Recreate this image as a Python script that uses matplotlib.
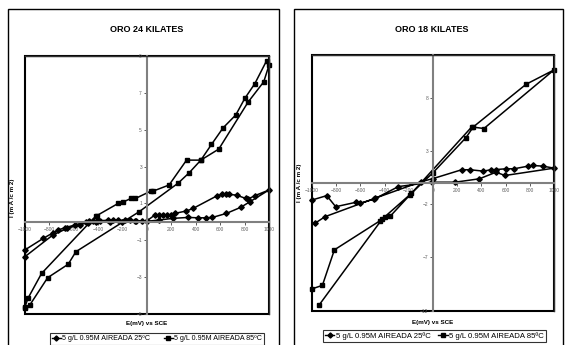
import matplotlib.pyplot as plt
from matplotlib.patches import Rectangle
from matplotlib.lines import Line2D

plt.rcParams['font.family'] = 'Liberation Sans'

# ORO 24 KILATES
x24_25 = [-1000, -849, -767, -726, -671, -589, -500, -470, -440, -410, -380, -317, -280, -240, -180,
          -139, -90, -40, 0, 65, 101, 134, 161, 194, 229, 324, 379, 576, 619, 646, 674, 734, 810,
          829, 884, 1000, 843, 769, 652, 537, 483, 420, 338, 215, 100, 0, -100, -200, -300, -420,
          -480, -550, -650, -767, -1000]
y24_25 = [-1.53, -0.9, -0.59, -0.44, -0.32, -0.17, 0.0, 0.03, 0.05, 0.06, 0.07, 0.08, 0.08, 0.08, 0.08,
          0.08, 0.07, 0.05, 0.05, 0.37, 0.37, 0.37, 0.37, 0.37, 0.46, 0.59, 0.73, 1.42, 1.49, 1.49, 1.49,
          1.45, 1.27, 1.24, 1.42, 1.73, 1.09, 0.79, 0.46, 0.24, 0.22, 0.22, 0.24, 0.19, 0.1, 0.03, 0.02,
          0.01, 0.0, -0.02, -0.05, -0.15, -0.35, -0.7, -1.9]
x24_85 = [-1000, -957, -812, -644, -581, -63, 256, 346, 442, 589, 829, 957, 1000,
          980, 884, 802, 728, 624, 529, 442, 325, 182, 52, 33, -93, -131, -199, -235, -412, -420,
          -862, -971, -1000]
y24_85 = [-4.7, -4.5, -3.03, -2.3, -1.62, 0.55, 2.1, 2.66, 3.35, 3.95, 6.5, 7.6, 8.5,
          8.74, 7.5, 6.7, 5.8, 5.1, 4.2, 3.35, 3.35, 2.0, 1.67, 1.67, 1.27, 1.27, 1.06, 1.0, 0.33, 0.3,
          -2.8, -4.12, -4.64]

# ORO 18 KILATES
x18_25 = [-972, -893, -480, -100, 0, 237, 306, 416, 479, 521, 603, 669, 787, 824, 907, 1000,
          595, 521, 383, 182, -11, -286, -484, -603, -639, -804, -878, -997]
y18_25 = [-3.77, -3.18, -1.45, 0.1, 0.4, 1.23, 1.23, 1.1, 1.23, 1.25, 1.32, 1.32, 1.57, 1.63, 1.57, 1.38,
          0.69, 1.0, 0.38, 0.06, 0.06, -0.35, -1.51, -1.92, -1.83, -2.24, -1.2, -1.6]
x18_85 = [-942, -420, -190, 0, 273, 333, 769, 1000,
          421, 320, -178, -355, -397, -438, -815, -914, -997]
y18_85 = [-11.48, -3.4, -1.1, 0.95, 4.25, 5.25, 9.25, 10.6,
          5.1, 5.25, -0.98, -3.15, -3.24, -3.56, -6.29, -9.62, -9.94]

xticks = list(range(-1000, 1001, 200))
yticks24 = [9, 7, 5, 3, 1, -1, -3, -5]
yticks18 = [8, 3, -2, -7, -12]

lab25 = '5 g/L 0.95M AIREADA 25ºC'
lab85 = '5 g/L 0.95M AIREADA 85ºC'

W, H = 565, 345
fig = plt.figure(figsize=(5.65, 3.45), dpi=100)

# outer chart frames
fig.add_artist(Rectangle((8 / W, -0.05), 271 / W, (H - 9) / H + 0.05, transform=fig.transFigure,
                         fill=False, edgecolor='black', lw=1))
fig.add_artist(Rectangle((294 / W, -0.05), 269 / W, (H - 9) / H + 0.05, transform=fig.transFigure,
                         fill=False, edgecolor='black', lw=1))


def setup(ax, ylim, yticks):
    ax.set_xlim(-1000, 1000)
    ax.set_ylim(*ylim)
    ax.spines['left'].set_position(('data', 0))
    ax.spines['bottom'].set_position(('data', 0))
    for s in ['left', 'bottom']:
        ax.spines[s].set_color('#808080')
        ax.spines[s].set_linewidth(1.5)
    for s in ['top', 'right']:
        ax.spines[s].set_color('#303030')
        ax.spines[s].set_linewidth(1)
    ax.patch.set_edgecolor('black')
    ax.patch.set_linewidth(1.5)
    ax.set_xticks(xticks)
    ax.set_yticks(yticks)
    ax.tick_params(length=2, width=0.6, color='#404040', labelsize=3.5, labelcolor='#606060', pad=1.5)
    ax.set_zorder(1)


ax1 = fig.add_axes([24.7 / W, 31 / H, 244.3 / W, 258 / H])
setup(ax1, (-5, 9), yticks24)
ax1.plot(x24_25, y24_25, color='black', lw=1.1, marker='D', ms=2.8, clip_on=False)
ax1.plot(x24_85, y24_85, color='black', lw=1.1, marker='s', ms=3.4, clip_on=False)

ax2 = fig.add_axes([312 / W, 34.3 / H, 242 / W, 255.7 / H])
setup(ax2, (-12, 12), yticks18)
ax2.plot(x18_25, y18_25, color='black', lw=1.1, marker='D', ms=2.8, clip_on=False)
ax2.plot(x18_85, y18_85, color='black', lw=1.1, marker='s', ms=3.4, clip_on=False)

fig.text(147 / W, 1 - 29 / H, 'ORO 24 KILATES', ha='center', va='center', fontsize=6.5, fontweight='bold')
fig.text(432 / W, 1 - 29 / H, 'ORO 18 KILATES', ha='center', va='center', fontsize=6.5, fontweight='bold')
fig.text(147 / W, 1 - 323 / H, 'E(mV) vs SCE', ha='center', va='center', fontsize=4.5, fontweight='bold')
fig.text(433 / W, 1 - 322.5 / H, 'E(mV) vs SCE', ha='center', va='center', fontsize=4.5, fontweight='bold')
fig.text(13 / W, 1 - 198 / H, 'I (m A /c m 2)', ha='center', va='center', rotation=90, fontsize=4.5,
         fontweight='bold')
fig.text(299 / W, 1 - 183 / H, 'I (m A /c m 2)', ha='center', va='center', rotation=90, fontsize=4.5,
         fontweight='bold')

handles = [Line2D([], [], color='black', lw=1, marker='D', ms=2.6),
           Line2D([], [], color='black', lw=1, marker='s', ms=3.2)]
for cx, cy, fs, cs in [(157, 339, 5.1, 2.0), (434.5, 336, 5.6, 1.0)]:
    leg = fig.legend(handles, [lab25, lab85], loc='center', bbox_to_anchor=(cx / W, 1 - cy / H), ncol=2,
                     fontsize=fs, frameon=True, fancybox=False, edgecolor='black', handlelength=1.2,
                     handletextpad=0.2, columnspacing=cs, borderpad=0.3, borderaxespad=0)
    leg.get_frame().set_linewidth(0.8)

fig.savefig('out.png', dpi=100)
